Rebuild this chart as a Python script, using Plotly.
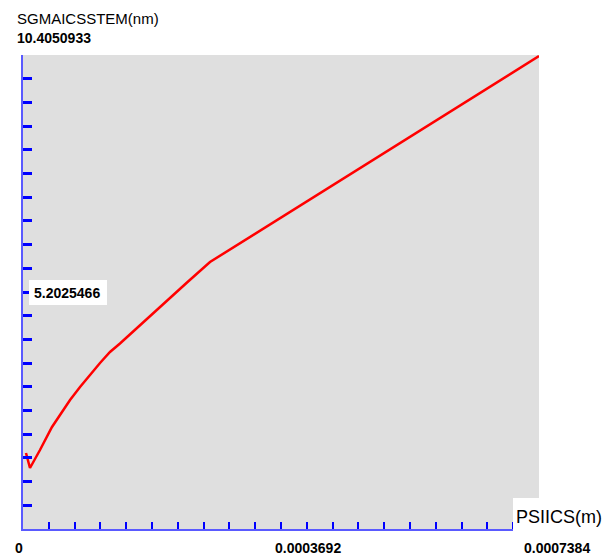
import plotly.graph_objects as go

# Axis extents
X_MAX = 0.0007384
Y_MAX = 10.4050933

# Curve samples: PSIICS (m) vs SGMAICSSTEM (nm)
psiics_m = [
    4.3e-6, 1.0e-5, 2.43e-5, 4.15e-5, 6.73e-5, 8.16e-5, 1.102e-4, 1.245e-4,
    1.388e-4, 1.860e-4, 2.347e-4, 2.676e-4, 3.248e-4, 3.964e-4, 4.679e-4,
    5.395e-4, 6.110e-4, 6.826e-4, 7.384e-4,
]
sgmaicsstem_nm = [
    1.668, 1.339, 1.734, 2.239, 2.832, 3.117, 3.644, 3.886,
    4.072, 4.742, 5.411, 5.861, 6.410, 7.091, 7.782,
    8.473, 9.154, 9.845, 10.383,
]

# Tick labels
x_title = "PSIICS(m)"
y_title = "SGMAICSSTEM(nm)"
x_tick_labels = ["0", "0.0003692", "0.0007384"]
y_tick_labels = ["5.2025466", "10.4050933"]

N_DIV = 20
x_ticks = [X_MAX * k / N_DIV for k in range(1, N_DIV)]
y_ticks = [Y_MAX * k / N_DIV for k in range(1, N_DIV)]

W, H = 611, 556
L, R, T, B = 23, 72, 55, 27
PW, PH = W - L - R, H - T - B


def px(x):
    return (x - L) / PW


def py(y):
    return (H - B - y) / PH


fig = go.Figure()
fig.add_trace(go.Scatter(
    x=psiics_m, y=sgmaicsstem_nm, mode="lines",
    line=dict(color="#ff0000", width=2.5),
    showlegend=False, hoverinfo="skip",
))

fig.update_xaxes(
    range=[0, X_MAX], tickvals=x_ticks, showticklabels=False,
    ticks="inside", ticklen=7, tickwidth=2, tickcolor="#0000ff",
    showline=True, linecolor="#5a5aff", linewidth=2,
    showgrid=False, zeroline=False,
)
fig.update_yaxes(
    range=[0, Y_MAX], tickvals=y_ticks, showticklabels=False,
    ticks="inside", ticklen=9, tickwidth=3, tickcolor="#0000ff",
    showline=True, linecolor="#5a5aff", linewidth=2,
    showgrid=False, zeroline=False,
)

num_font = dict(family="Liberation Sans", size=14, color="#000000")
title_font = dict(family="Liberation Sans", size=15, color="#000000")

# White label boxes over the plot area
shapes = [
    dict(type="rect", xref="paper", yref="paper",
         x0=px(29), x1=px(107), y0=py(305), y1=py(280),
         fillcolor="#ffffff", line=dict(width=0), layer="above"),
    dict(type="rect", xref="paper", yref="paper",
         x0=px(513), x1=px(W + 5), y0=py(H + 5), y1=py(498),
         fillcolor="#ffffff", line=dict(width=0), layer="above"),
]

annotations = [
    dict(text=y_title, x=px(16), y=py(18.5), xanchor="left", yanchor="middle",
         font=title_font),
    dict(text="<b>%s</b>" % y_tick_labels[1], x=px(16), y=py(38),
         xanchor="left", yanchor="middle", font=num_font),
    dict(text="<b>%s</b>" % y_tick_labels[0], x=px(33), y=py(293),
         xanchor="left", yanchor="middle", font=num_font),
    dict(text=x_title, x=px(515), y=py(517), xanchor="left", yanchor="middle",
         font=dict(family="Liberation Sans", size=18, color="#000000")),
    dict(text="<b>%s</b>" % x_tick_labels[0], x=px(23.5), y=py(548),
         xanchor="right", yanchor="middle", font=num_font),
    dict(text="<b>%s</b>" % x_tick_labels[1], x=px(307.5), y=py(548),
         xanchor="center", yanchor="middle", font=num_font),
    dict(text="<b>%s</b>" % x_tick_labels[2], x=px(556.5), y=py(548),
         xanchor="center", yanchor="middle", font=num_font),
]
for a in annotations:
    a.update(xref="paper", yref="paper", showarrow=False, borderpad=0)

fig.update_layout(
    width=W, height=H,
    margin=dict(l=L, r=R, t=T, b=B, pad=0),
    plot_bgcolor="#dfdfdf", paper_bgcolor="#ffffff",
    shapes=shapes, annotations=annotations,
)

fig.write_html("out.html")
